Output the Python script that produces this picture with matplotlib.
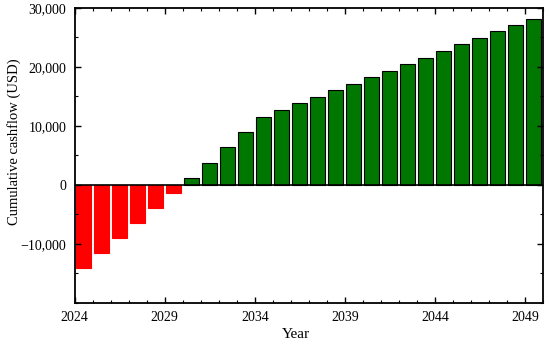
import numpy as np
import matplotlib.pyplot as plt
from matplotlib.ticker import MultipleLocator, FuncFormatter

years = np.arange(2024, 2050)
cashflow = [-14100, -11550, -9000, -6450, -3900, -1350,
            1250, 3800, 6400, 8950, 11600, 12700, 13850, 14950,
            16100, 17150, 18300, 19400, 20500, 21600, 22700, 23850,
            24900, 26050, 27100, 28200]

plt.rcParams['font.family'] = ['Liberation Serif']

fig = plt.figure(figsize=(5.5, 3.47), dpi=100)
ax = fig.add_axes([0.136, 0.127, 0.851, 0.85])

# red below zero, green with black outline above
neg = [v < 0 for v in cashflow]
colors = ['#ff0000' if n else '#007700' for n in neg]
edges = ['#ff0000' if n else 'black' for n in neg]
ax.bar(years + 0.5, cashflow, width=0.84, color=colors, edgecolor=edges, linewidth=0.8)
ax.axhline(0, color='black', linewidth=1.2)

ax.set_xlim(2024, 2050)
ax.set_ylim(-20000, 30000)
ax.set_xticks(np.arange(2024, 2050, 5))
ax.xaxis.set_minor_locator(MultipleLocator(1))
ax.set_yticks([-10000, 0, 10000, 20000, 30000])
ax.yaxis.set_minor_locator(MultipleLocator(5000))
ax.yaxis.set_major_formatter(FuncFormatter(lambda v, p: f'{int(v):,}'.replace('-', '\u2212')))
ax.tick_params(which='both', direction='in', top=True, right=True, labelsize=10)
ax.tick_params(which='major', length=4, width=1, pad=6)
ax.tick_params(which='minor', length=2.5, width=0.8)
for s in ax.spines.values():
    s.set_linewidth(1.3)

ax.set_xlabel('Year', fontsize=11)
ax.xaxis.set_label_coords(0.472, -0.085)
ax.set_ylabel('Cumulative cashflow (USD)', fontsize=10.5)
ax.yaxis.set_label_coords(-0.115, 0.545)

fig.savefig('out.png', dpi=100)
